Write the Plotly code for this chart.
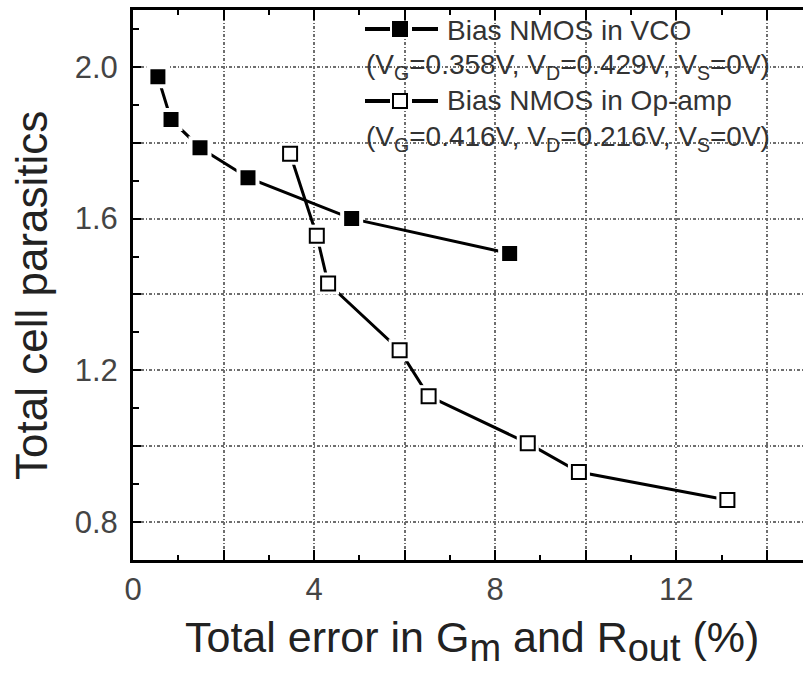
import plotly.graph_objects as go

# Bias NMOS in VCO: total error (%) vs. total cell parasitics
vco_err = [0.55, 0.84, 1.48, 2.54, 4.83, 8.32]
vco_par = [1.974, 1.861, 1.787, 1.708, 1.600, 1.508]

# Bias NMOS in Op-amp
opamp_err = [3.47, 4.06, 4.31, 5.89, 6.53, 8.72, 9.85, 13.13]
opamp_par = [1.771, 1.555, 1.429, 1.253, 1.132, 1.008, 0.932, 0.858]

x_tickvals = [0, 2, 4, 6, 8, 10, 12, 14]
x_ticktext = ["0", "", "4", "", "8", "", "12", ""]
y_tickvals = [0.8, 1.0, 1.2, 1.4, 1.6, 1.8, 2.0]
y_ticktext = ["0.8", "", "1.2", "", "1.6", "", "2.0"]

vco_name = "Bias NMOS in VCO"
vco_cond = "(V<sub>G</sub>=0.358V, V<sub>D</sub>=0.429V, V<sub>S</sub>=0V)"
opamp_name = "Bias NMOS in Op-amp"
opamp_cond = "(V<sub>G</sub>=0.416V, V<sub>D</sub>=0.216V, V<sub>S</sub>=0V)"

FONT = "Liberation Sans, Arial, sans-serif"
W, H = 803, 673
L, R, T, B = 133, 0, 10, 113

fig = go.Figure()

# filled squares; the white outline opens a small gap in the line
fig.add_trace(go.Scatter(
    x=vco_err, y=vco_par, mode="lines+markers", name=vco_name,
    line=dict(color="black", width=3),
    marker=dict(symbol="square", size=19, color="black",
                line=dict(color="white", width=4)),
))

# open squares: connecting line first
fig.add_trace(go.Scatter(
    x=opamp_err, y=opamp_par, mode="lines", name=opamp_name,
    line=dict(color="black", width=3),
))
# white halo so the line stops short of each square
fig.add_trace(go.Scatter(
    x=opamp_err, y=opamp_par, mode="markers", showlegend=False,
    hoverinfo="skip",
    marker=dict(symbol="square", size=22, color="white", line=dict(width=0)),
))
fig.add_trace(go.Scatter(
    x=opamp_err, y=opamp_par, mode="markers", showlegend=False,
    name=opamp_name,
    marker=dict(symbol="square", size=14, color="white",
                line=dict(color="black", width=2)),
))

# pixel -> paper helpers
px = lambda v: (v - L) / (W - L - R)
py = lambda v: (H - B - v) / (H - T - B)

# legend keys: line - square - line
def legend_key(yc, filled):
    for x0, x1 in ((365, 390), (412, 438)):
        fig.add_shape(type="line", xref="paper", yref="paper",
                      x0=px(x0), x1=px(x1), y0=py(yc), y1=py(yc),
                      line=dict(color="black", width=4))
    half = 8 if filled else 7
    fig.add_shape(type="rect", xref="paper", yref="paper",
                  x0=px(400 - half), x1=px(400 + half),
                  y0=py(yc + half), y1=py(yc - half),
                  fillcolor="black" if filled else "white",
                  line=dict(color="black", width=0 if filled else 2))

legend_key(29, True)
legend_key(101, False)

lfont = dict(family=FONT, size=28, color="#333")
for text, xl, yc in ((vco_name, 445, 30), (vco_cond, 364, 66),
                     (opamp_name, 445, 101), (opamp_cond, 364, 138)):
    fig.add_annotation(text=text, x=px(xl), y=py(yc), xref="paper", yref="paper",
                       xanchor="left", yanchor="middle", showarrow=False,
                       font=lfont)

# axis titles
fig.add_annotation(text="Total cell parasitics", x=px(31), y=py(296),
                   xref="paper", yref="paper", textangle=-90,
                   xanchor="center", yanchor="middle", showarrow=False,
                   font=dict(family=FONT, size=44, color="#222"))
fig.add_annotation(
    text="Total error in G<sub><span style='font-size:38px'>m</span></sub> and "
         "R<sub><span style='font-size:38px'>out</span></sub> (%)",
    x=px(472), y=py(641), xref="paper", yref="paper",
    xanchor="center", yanchor="middle", showarrow=False,
    font=dict(family=FONT, size=43, color="#222"))

grid = dict(gridcolor="#6e6e6e", gridwidth=1.5, griddash="3px,2px,1px,2px")

fig.update_xaxes(
    range=[0, 14.8], tickmode="array", tickvals=x_tickvals, ticktext=x_ticktext,
    ticks="inside", ticklen=10, tickwidth=2, tickcolor="black",
    showline=True, linewidth=3, linecolor="black", mirror="ticks",
    showgrid=True, zeroline=False, ticklabelstandoff=0,
    tickfont=dict(family=FONT, size=31, color="#444"),
    minor=dict(tickmode="linear", tick0=0, dtick=1, ticks="inside",
               ticklen=5, tickwidth=2, tickcolor="black", showgrid=False),
    **grid,
)
fig.update_yaxes(
    range=[0.7, 2.15], tickmode="array", tickvals=y_tickvals, ticktext=y_ticktext,
    ticks="inside", ticklen=8, tickwidth=2, tickcolor="black",
    showline=True, linewidth=3, linecolor="black", mirror=False,
    showgrid=True, zeroline=False, ticklabelstandoff=6,
    tickfont=dict(family=FONT, size=31, color="#444"),
    minor=dict(tickmode="linear", tick0=0.7, dtick=0.1, ticks="inside",
               ticklen=6, tickwidth=2, tickcolor="black", showgrid=False),
    **grid,
)

fig.update_layout(
    width=W, height=H,
    margin=dict(l=L, r=R, t=T, b=B, pad=0),
    paper_bgcolor="white", plot_bgcolor="white",
    showlegend=False,
)

fig.write_html("out.html")
